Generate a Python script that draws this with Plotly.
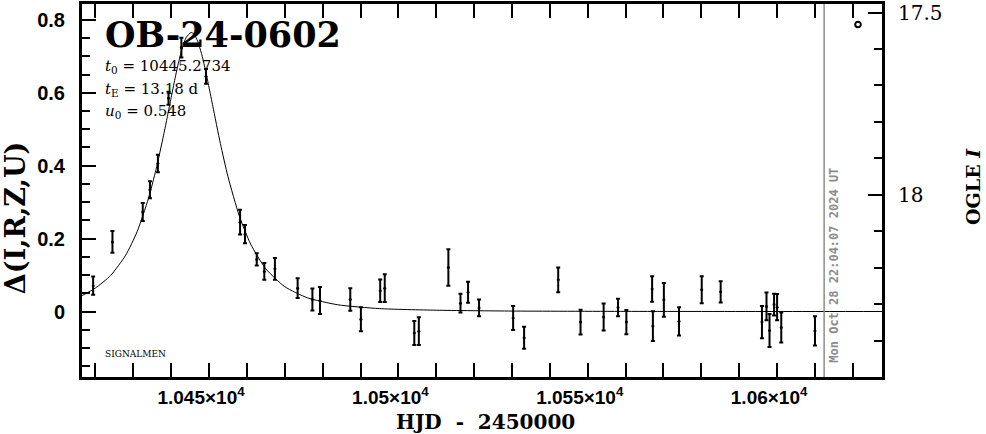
import plotly.graph_objects as go

# ---- data ----
hjd = [10419.4, 10424.5, 10432.5, 10434.4, 10436.5, 10439.3, 10442.7, 10449.2, 10458.2, 10459.5,
       10462.6, 10464.6, 10467.4, 10473.4, 10477.3, 10479.3, 10487.3, 10490.1, 10495.2, 10496.4,
       10504.2, 10505.4, 10513.2, 10516.4, 10518.4, 10521.3, 10530.3, 10533.2, 10542.2, 10548.1,
       10554.2, 10558.0, 10560.2, 10567.0, 10567.2, 10570.1, 10574.1, 10580.1, 10585.1, 10596.0,
       10597.2, 10598.0, 10599.2, 10600.0, 10601.1, 10610.0]
delta = [0.071, 0.191, 0.273, 0.334, 0.406, 0.585, 0.724, 0.645, 0.245, 0.212,
         0.143, 0.110, 0.117, 0.064, 0.033, 0.030, 0.033, -0.021, 0.057, 0.064,
         -0.059, -0.054, 0.121, 0.023, 0.053, 0.010, -0.018, -0.072, 0.087, -0.029,
         -0.015, 0.011, -0.029, 0.062, -0.040, 0.032, -0.027, 0.060, 0.054, -0.029,
         0.014, -0.052, 0.019, 0.012, -0.044, -0.053]
err = [0.025, 0.030, 0.025, 0.023, 0.024, 0.018, 0.027, 0.020, 0.034, 0.025,
       0.017, 0.023, 0.030, 0.027, 0.030, 0.037, 0.031, 0.033, 0.031, 0.038,
       0.033, 0.038, 0.050, 0.026, 0.029, 0.023, 0.033, 0.030, 0.034, 0.034,
       0.037, 0.024, 0.033, 0.035, 0.041, 0.046, 0.039, 0.037, 0.029, 0.044,
       0.038, 0.045, 0.030, 0.036, 0.041, 0.040]

model_t = [10416.4, 10420, 10424, 10428, 10431, 10434, 10436, 10438, 10439, 10440,
           10441, 10442, 10443, 10444, 10445.27, 10446, 10447, 10448, 10449, 10450,
           10451, 10453, 10455, 10458, 10461, 10465, 10470, 10476, 10484, 10495,
           10510, 10530, 10560, 10600, 10628]
model_d = [0.0432, 0.0644, 0.0987, 0.1546, 0.2186, 0.3101, 0.3894, 0.4834, 0.5346, 0.5869,
           0.6381, 0.6852, 0.7246, 0.7522, 0.7656, 0.7612, 0.7414, 0.7080, 0.6646, 0.6152,
           0.5632, 0.4609, 0.3701, 0.2619, 0.1847, 0.1171, 0.0682, 0.0376, 0.0185, 0.0080,
           0.0036, 0.0013, 0.0004, 0.0001, 0.0]

x_tickvals = [10450, 10500, 10550, 10600]
x_ticktext = ["1.045×10<sup>4</sup>", "1.05×10<sup>4</sup>", "1.055×10<sup>4</sup>", "1.06×10<sup>4</sup>"]
y_tickvals = [0, 0.2, 0.4, 0.6, 0.8]
y_ticktext = ["0", "0.2", "0.4", "0.6", "0.8"]
mag_tickvals = [17.5, 18]
mag_ticktext = ["17.5", "18"]

event_name = "OB-24-0602"
params = ["<i>t</i><sub>0</sub> = 10445.2734", "<i>t</i><sub>E</sub> = 13.18 d", "<i>u</i><sub>0</sub> = 0.548"]
now_hjd = 10612.42
now_text = "Mon Oct 28 22:04:07 2024 UT"
baseline_mag = 18.32

x_range = [10416.46, 10627.7]
y_range = [-0.1796, 0.8435]

fig = go.Figure()

fig.add_trace(go.Scatter(
    x=model_t, y=model_d, mode="lines",
    line=dict(color="black", width=1, shape="spline", smoothing=0.6),
    hoverinfo="skip", showlegend=False))

fig.add_trace(go.Scatter(
    x=hjd, y=delta, mode="markers",
    marker=dict(color="black", size=3),
    error_y=dict(type="data", array=err, visible=True, color="black", thickness=2, width=2),
    showlegend=False))

fig.update_layout(
    width=986, height=434,
    margin=dict(l=82, r=104, t=1, b=57),
    paper_bgcolor="white", plot_bgcolor="white",
    showlegend=False,
    xaxis=dict(
        range=x_range, showgrid=False, zeroline=False,
        showline=True, linecolor="black", linewidth=3, mirror="allticks",
        ticks="inside", ticklen=14, tickwidth=2, tickcolor="black",
        tickmode="array", tickvals=x_tickvals, ticktext=x_ticktext,
        tickfont=dict(family="Liberation Sans", size=19, color="black", weight="bold"),
        ticklabelstandoff=1, ticklabelshift=-8,
        minor=dict(tickmode="linear", tick0=10400, dtick=10, ticks="inside",
                   ticklen=7, tickwidth=2, tickcolor="black"),
    ),
    yaxis=dict(
        range=y_range, showgrid=False, zeroline=False,
        showline=True, linecolor="black", linewidth=3, mirror=True,
        ticks="inside", ticklen=14, tickwidth=2, tickcolor="black",
        tickmode="array", tickvals=y_tickvals, ticktext=y_ticktext,
        tickfont=dict(family="Liberation Sans", size=20, color="black", weight="bold"),
        ticklabelstandoff=10,
        minor=dict(tickmode="linear", tick0=0, dtick=0.05, ticks="inside",
                   ticklen=8, tickwidth=2, tickcolor="black"),
    ),
    yaxis2=dict(
        overlaying="y", side="right", anchor="x",
        range=[baseline_mag - y_range[0], baseline_mag - y_range[1]],
        showgrid=False, zeroline=False,
        showline=True, linecolor="black", linewidth=3,
        ticks="inside", ticklen=14, tickwidth=2, tickcolor="black",
        tickmode="array", tickvals=mag_tickvals, ticktext=mag_ticktext,
        tickfont=dict(family="DejaVu Serif", size=20, color="black"),
        ticklabelstandoff=9,
        minor=dict(tickmode="linear", tick0=17.5, dtick=0.1, ticks="inside",
                   ticklen=8, tickwidth=2, tickcolor="black"),
    ),
)

# invisible trace binding the right (OGLE I magnitude) axis
fig.add_trace(go.Scatter(x=[hjd[0]], y=[baseline_mag - delta[0]], yaxis="y2", mode="markers",
                         marker=dict(opacity=0), hoverinfo="skip", showlegend=False))

# current-time line
fig.add_shape(type="line", xref="x", yref="paper", x0=now_hjd, x1=now_hjd, y0=0, y1=1,
              line=dict(color="#8c8c8c", width=1.5))
fig.add_annotation(x=now_hjd, xref="x", y=-0.147, yref="y", text=now_text, textangle=-90,
                   xanchor="left", yanchor="bottom", xshift=0, showarrow=False,
                   font=dict(family="DejaVu Sans Mono", size=12, color="#8c8c8c", weight="bold"))

# small open circle (data-set symbol)
fig.add_shape(type="circle", xref="paper", yref="paper",
              x0=0.9700 - 0.0035, x1=0.9700 + 0.0035, y0=0.945 - 0.0075, y1=0.945 + 0.0075,
              line=dict(color="black", width=2))

# event name and parameters
fig.add_annotation(x=0.026, xref="paper", y=0.918, yref="paper", text=event_name,
                   xanchor="left", yanchor="middle", showarrow=False,
                   font=dict(family="DejaVu Serif", size=35, color="black", weight="bold"))
for txt, yy in zip(params, [0.832, 0.771, 0.713]):
    fig.add_annotation(x=0.026, xref="paper", y=yy, yref="paper", text=txt,
                       xanchor="left", yanchor="middle", showarrow=False,
                       font=dict(family="DejaVu Serif", size=15, color="black"))
fig.add_annotation(x=0.026, xref="paper", y=0.061, yref="paper", text="SIGNALMEN",
                   xanchor="left", yanchor="middle", showarrow=False,
                   font=dict(family="DejaVu Serif", size=9, color="black"))

# axis titles
fig.add_annotation(x=-0.0838, xref="paper", y=0.428, yref="paper", text="Δ(I,R,Z,U)",
                   textangle=-90, xanchor="center", yanchor="middle", showarrow=False,
                   font=dict(family="DejaVu Serif", size=27, color="black", weight="bold"))
fig.add_annotation(x=0.504, xref="paper", y=-0.1197, yref="paper", text="HJD  -  2450000",
                   xanchor="center", yanchor="middle", showarrow=False,
                   font=dict(family="DejaVu Serif", size=20, color="black", weight="bold"))
fig.add_annotation(x=1.114, xref="paper", y=0.51, yref="paper", text="OGLE <i>I</i>",
                   textangle=-90, xanchor="center", yanchor="middle", showarrow=False,
                   font=dict(family="DejaVu Serif", size=19, color="black", weight="bold"))

fig.write_html("out.html", config={"displayModeBar": False},
               post_script="document.body.style.margin='0px';document.body.style.padding='0px';")
